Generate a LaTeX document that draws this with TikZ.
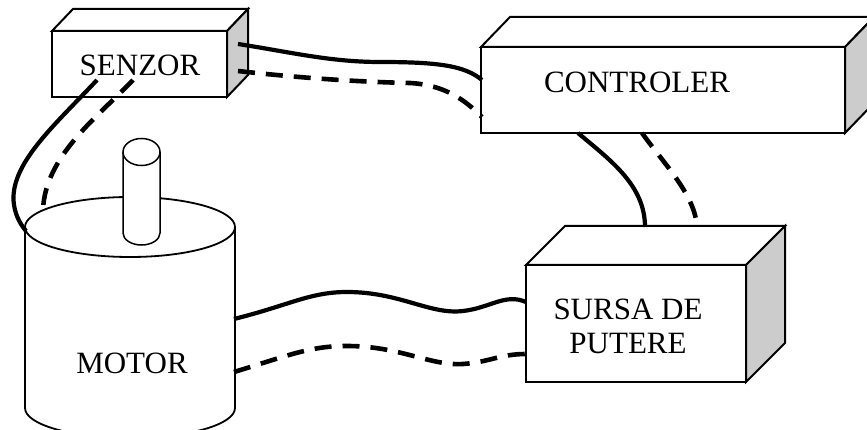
\documentclass[tikz,border=0pt]{standalone}
\usepackage{fontspec}
\setmainfont{Liberation Serif}
\begin{document}
\begin{tikzpicture}[x=1pt,y=-1pt,
  face/.style={draw,line width=2pt,line join=miter,fill=white},
  side/.style={draw,line width=2pt,line join=miter,fill=gray!40},
  front/.style={draw,line width=2pt,fill=white,inner sep=0pt,outer sep=0pt,
    minimum width=#1},
  lbl/.style={font=\fontsize{31}{34}\selectfont,align=center,inner sep=0pt},
  wire/.style={line width=4.2pt},
  wired/.style={line width=4.6pt,dash pattern=on 17pt off 11pt}]
\useasboundingbox (0,0) rectangle (867,430);
\clip (0,0) rectangle (867,430);

% --- sensor block ---
\node[front=175pt,minimum height=66pt] (sz) at (139.5,64) {};
\draw[face] (sz.north west) -- ++(21,-22) -- ++(175,0) -- (sz.north east) -- cycle;
\draw[side] (sz.north east) -- ++(21,-22) -- ++(0,66) -- (sz.south east) -- cycle;
\node[lbl] (sztxt) at (140,65) {SENZOR};

% --- controller block ---
\node[front=364pt,minimum height=86pt] (ct) at (663,90) {};
\draw[face] (ct.north west) -- ++(29,-30) -- ++(364,0) -- (ct.north east) -- cycle;
\draw[side] (ct.north east) -- ++(29,-30) -- ++(0,86) -- (ct.south east) -- cycle;
\node[lbl] (cttxt) at (637,82) {CONTROLER};

% --- power supply block ---
\node[front=220pt,minimum height=117pt] (ps) at (636,323.5) {};
\draw[face] (ps.north west) -- ++(39,-39) -- ++(220,0) -- (ps.north east) -- cycle;
\draw[side] (ps.north east) -- ++(39,-39) -- ++(0,117) -- (ps.south east) -- cycle;
\node[lbl] (pstxt) at (628,326) {SURSA DE\\PUTERE};

% --- motor cylinder with shaft ---
\coordinate (motor) at (130,227);
\draw[line width=1.8pt,fill=white] (25,227) -- (25,408)
  arc[start angle=180,end angle=360,x radius=105,y radius=-30] -- (235,227);
\draw[line width=1.8pt,fill=white] (motor) ellipse[x radius=105,y radius=30];
\draw[line width=1.5pt,fill=white] (123,152) -- (123,233)
  arc[start angle=180,end angle=360,x radius=18.5,y radius=-12] -- (160,152);
\draw[line width=1.5pt,fill=white] (141.5,152) ellipse[x radius=18.5,y radius=13.5];
\node[lbl] (mtxt) at (132,363) {MOTOR};

% --- cable end points ---
\coordinate (sz-c1) at (238,44);
\coordinate (sz-c2) at (238,71);
\coordinate (ct-s1) at (482,80);
\coordinate (ct-s2) at (482,117);
\coordinate (ct-b1) at (578,133);
\coordinate (ct-b2) at (642,133);
\coordinate (ps-t1) at (645,227);
\coordinate (ps-t2) at (697,227);
\coordinate (sz-m1) at (97,80);
\coordinate (sz-m2) at (133,80);
\coordinate (mt-s1) at (26,231);
\coordinate (mt-s2) at (43,210);
\coordinate (mt-p1) at (234,319);
\coordinate (mt-p2) at (234,372);
\coordinate (ps-l1) at (526,302);
\coordinate (ps-l2) at (526,354);

% --- cables: solid and dashed pairs ---
\draw[wire] (sz-c1) .. controls (290,52) and (330,62) .. (380,62)
  .. controls (440,62) and (465,66) .. (ct-s1);
\draw[wired] (sz-c2) .. controls (300,78) and (360,82) .. (410,83)
  .. controls (445,85) and (465,100) .. (ct-s2);

\draw[wire] (ct-b1) .. controls (610,160) and (645,185) .. (ps-t1);
\draw[wired] (ct-b2) .. controls (665,165) and (695,195) .. (ps-t2);

\draw[wire] (sz-m1) .. controls (55,125) and (8,165) .. (14,205)
  .. controls (16,218) and (22,226) .. (mt-s1);
\draw[wired] (sz-m2) .. controls (100,115) and (45,155) .. (mt-s2);

\draw[wire] (mt-p1) .. controls (290,305) and (310,292) .. (347,292)
  .. controls (400,292) and (430,315) .. (463,311)
  .. controls (490,308) and (505,293) .. (ps-l1);
\draw[wired] (mt-p2) .. controls (290,355) and (310,346) .. (347,346)
  .. controls (400,346) and (430,366) .. (463,364)
  .. controls (490,362) and (500,354) .. (ps-l2);
\end{tikzpicture}
\end{document}
